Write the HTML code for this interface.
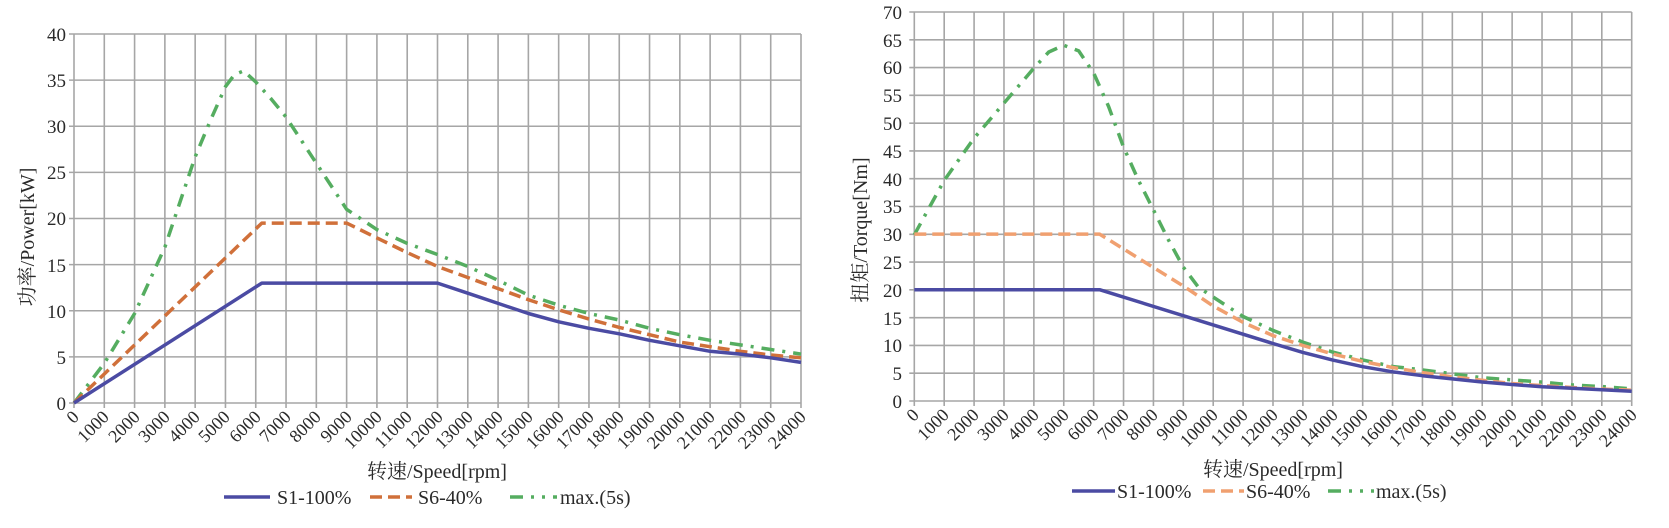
<!DOCTYPE html>
<html><head><meta charset="utf-8"><style>
html,body{margin:0;padding:0;background:#fff;}
svg{display:block;}
text{font-family:"Liberation Serif","Noto Serif CJK SC",serif;fill:#2a2a2a;}
</style></head><body>
<svg id="s" width="1669" height="528" viewBox="0 0 1669 528" xmlns="http://www.w3.org/2000/svg">
<g id="grid"></g>
<g id="series"></g>
<g font-size="19" text-anchor="end">
<text x="66" y="410">0</text><text x="66" y="364">5</text><text x="66" y="318">10</text><text x="66" y="272">15</text><text x="66" y="225">20</text><text x="66" y="179">25</text><text x="66" y="133">30</text><text x="66" y="87">35</text><text x="66" y="41">40</text>
<text x="902" y="408">0</text><text x="902" y="380">5</text><text x="902" y="352">10</text><text x="902" y="325">15</text><text x="902" y="297">20</text><text x="902" y="269">25</text><text x="902" y="241">30</text><text x="902" y="213">35</text><text x="902" y="186">40</text><text x="902" y="158">45</text><text x="902" y="130">50</text><text x="902" y="102">55</text><text x="902" y="74">60</text><text x="902" y="47">65</text><text x="902" y="19">70</text>
</g>
<g font-size="18" text-anchor="end">
<text transform="translate(80,418) rotate(-45)">0</text><text transform="translate(110,418) rotate(-45)">1000</text><text transform="translate(141,418) rotate(-45)">2000</text><text transform="translate(171,418) rotate(-45)">3000</text><text transform="translate(201,418) rotate(-45)">4000</text><text transform="translate(231,418) rotate(-45)">5000</text><text transform="translate(262,418) rotate(-45)">6000</text><text transform="translate(292,418) rotate(-45)">7000</text><text transform="translate(322,418) rotate(-45)">8000</text><text transform="translate(353,418) rotate(-45)">9000</text><text transform="translate(383,418) rotate(-45)">10000</text><text transform="translate(413,418) rotate(-45)">11000</text><text transform="translate(444,418) rotate(-45)">12000</text><text transform="translate(474,418) rotate(-45)">13000</text><text transform="translate(504,418) rotate(-45)">14000</text><text transform="translate(534,418) rotate(-45)">15000</text><text transform="translate(565,418) rotate(-45)">16000</text><text transform="translate(595,418) rotate(-45)">17000</text><text transform="translate(625,418) rotate(-45)">18000</text><text transform="translate(656,418) rotate(-45)">19000</text><text transform="translate(686,418) rotate(-45)">20000</text><text transform="translate(716,418) rotate(-45)">21000</text><text transform="translate(747,418) rotate(-45)">22000</text><text transform="translate(777,418) rotate(-45)">23000</text><text transform="translate(807,418) rotate(-45)">24000</text>
<text transform="translate(920,416) rotate(-45)">0</text><text transform="translate(950,416) rotate(-45)">1000</text><text transform="translate(980,416) rotate(-45)">2000</text><text transform="translate(1010,416) rotate(-45)">3000</text><text transform="translate(1040,416) rotate(-45)">4000</text><text transform="translate(1070,416) rotate(-45)">5000</text><text transform="translate(1100,416) rotate(-45)">6000</text><text transform="translate(1130,416) rotate(-45)">7000</text><text transform="translate(1159,416) rotate(-45)">8000</text><text transform="translate(1189,416) rotate(-45)">9000</text><text transform="translate(1219,416) rotate(-45)">10000</text><text transform="translate(1249,416) rotate(-45)">11000</text><text transform="translate(1279,416) rotate(-45)">12000</text><text transform="translate(1309,416) rotate(-45)">13000</text><text transform="translate(1339,416) rotate(-45)">14000</text><text transform="translate(1369,416) rotate(-45)">15000</text><text transform="translate(1399,416) rotate(-45)">16000</text><text transform="translate(1428,416) rotate(-45)">17000</text><text transform="translate(1458,416) rotate(-45)">18000</text><text transform="translate(1488,416) rotate(-45)">19000</text><text transform="translate(1518,416) rotate(-45)">20000</text><text transform="translate(1548,416) rotate(-45)">21000</text><text transform="translate(1578,416) rotate(-45)">22000</text><text transform="translate(1608,416) rotate(-45)">23000</text><text transform="translate(1638,416) rotate(-45)">24000</text>
</g>
<g font-size="20">
<text x="437" y="478" text-anchor="middle">转速/Speed[rpm]</text>
<text x="1273" y="476" text-anchor="middle">转速/Speed[rpm]</text>
<text transform="translate(34,237) rotate(-90)" text-anchor="middle">功率/Power[kW]</text>
<text transform="translate(867,230) rotate(-90)" text-anchor="middle">扭矩/Torque[Nm]</text>
</g>
<g font-size="20">
<line x1="224" y1="497" x2="270" y2="497" stroke="#4b4ba3" stroke-width="3.5"/>
<text x="277" y="504">S1-100%</text>
<line x1="370" y1="497" x2="412" y2="497" stroke="#d0703a" stroke-width="3.5" stroke-dasharray="12,6"/>
<text x="418" y="504">S6-40%</text>
<line x1="510" y1="497" x2="557" y2="497" stroke="#55ad60" stroke-width="3.5" stroke-dasharray="13,8,3,8,3,8"/>
<text x="560" y="504">max.(5s)</text>
<line x1="1072" y1="491" x2="1115" y2="491" stroke="#4b4ba3" stroke-width="3.5"/>
<text x="1117" y="498">S1-100%</text>
<line x1="1203" y1="491" x2="1244" y2="491" stroke="#f0a070" stroke-width="3.5" stroke-dasharray="12,6"/>
<text x="1246" y="498">S6-40%</text>
<line x1="1328" y1="491" x2="1374" y2="491" stroke="#55ad60" stroke-width="3.5" stroke-dasharray="13,8,3,8,3,8"/>
<text x="1376" y="498">max.(5s)</text>
</g>
</svg>
<script>
(function(){
var NS="http://www.w3.org/2000/svg",g=document.getElementById('grid'),s=document.getElementById('series');
function el(p,t,a){var e=document.createElementNS(NS,t);for(var k in a)e.setAttribute(k,a[k]);p.appendChild(e);return e;}
var L={x0:74,x1:801,y0:403,y1:34,ymax:40,ystep:5},R={x0:914.3,x1:1631.7,y0:401,y1:12,ymax:70,ystep:5};
[L,R].forEach(function(c){
 for(var i=0;i<=24;i++){var x=c.x0+(c.x1-c.x0)*i/24;el(g,'line',{x1:x,y1:c.y1,x2:x,y2:c.y0+5,stroke:'#a6a6a6','stroke-width':1.6});}
 for(var v=0;v<=c.ymax;v+=c.ystep){var y=c.y0-(c.y0-c.y1)*v/c.ymax;el(g,'line',{x1:c.x0-5,y1:y,x2:c.x1,y2:y,stroke:'#a6a6a6','stroke-width':1.6});}
});
function path(c,pts,col,dash){var d='';pts.forEach(function(p,i){var x=c.x0+(c.x1-c.x0)*p[0]/24000,y=c.y0-(c.y0-c.y1)*p[1]/c.ymax;d+=(i?'L':'M')+x.toFixed(1)+','+y.toFixed(1);});
 var a={d:d,fill:'none',stroke:col,'stroke-width':3.5,'stroke-linejoin':'round'};if(dash)a['stroke-dasharray']=dash;el(s,'path',a);}
var s1=[[0,0],[6200,13],[12000,13],[13000,11.9],[14000,10.8],[15000,9.7],[16000,8.8],[17000,8.1],[18000,7.5],[19000,6.8],[20000,6.2],[21000,5.6],[22000,5.3],[23000,4.9],[24000,4.4]];
var s6=[[0,0],[6200,19.5],[9000,19.5],[10000,17.9],[11000,16.3],[12000,14.8],[13000,13.6],[14000,12.4],[15000,11.2],[16000,10.1],[17000,9.1],[18000,8.2],[19000,7.4],[20000,6.6],[21000,6.1],[22000,5.6],[23000,5.2],[24000,4.9]];
var mx=[[0,0],[1000,4.3],[2000,9.7],[3000,16.9],[4000,26.7],[4500,30.6],[5000,34.3],[5300,35.6],[5600,36],[6000,34.8],[6500,33],[7000,31],[8000,26],[9000,21],[10000,18.8],[11000,17.3],[12000,16.1],[13000,14.8],[14000,13.3],[15000,11.7],[16000,10.6],[17000,9.7],[18000,9],[19000,8.1],[20000,7.4],[21000,6.8],[22000,6.3],[23000,5.8],[24000,5.3]];
path(L,mx,'#55ad60','13,8,3,8');path(L,s6,'#d0703a','12,6');path(L,s1,'#4b4ba3');
function tq(arr,start){var o=[[0,start]];arr.forEach(function(p){if(p[0]>=6200)o.push([p[0],p[1]*9549/p[0]]);});return o;}
var ts1=tq(s1,20.02),ts6=tq(s6,30.03);
var tmx=[[0,29.9],[1000,39.7],[2000,47.3],[3000,53.6],[4000,59.9],[4500,62.8],[5000,64],[5500,63],[6000,59],[6500,53],[7000,45.7],[7500,39.7],[8000,34.4],[8500,29],[9000,24.1],[9500,20.5],[10000,18.7],[11000,15.2],[12000,12.7],[13000,10.6],[14000,8.8],[15000,7.4],[16000,6.2],[17000,5.6],[18000,4.9],[19000,4.2],[20000,3.8],[21000,3.4],[22000,2.9],[23000,2.6],[24000,2.2]];
path(R,tmx,'#55ad60','13,8,3,8');path(R,ts6,'#f0a070','12,6');path(R,ts1,'#4b4ba3');
})();
</script>
</body></html>
